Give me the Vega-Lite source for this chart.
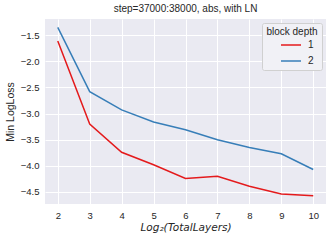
{
  "$schema": "https://vega.github.io/schema/vega-lite/v6.json",
  "autosize": {"type": "none"},
  "width": 281,
  "height": 185,
  "padding": {"left": 45, "top": 19, "right": 6, "bottom": 37},
  "background": "white",
  "title": {"text": "step=37000:38000, abs, with LN", "fontSize": 10, "fontWeight": "normal", "font": "Liberation Sans", "color": "#262626", "offset": 5},
  "data": {"values": [
    {"x": 2, "y": -1.61, "d": "1"},
    {"x": 3, "y": -3.20, "d": "1"},
    {"x": 4, "y": -3.74, "d": "1"},
    {"x": 5, "y": -3.98, "d": "1"},
    {"x": 6, "y": -4.24, "d": "1"},
    {"x": 7, "y": -4.20, "d": "1"},
    {"x": 8, "y": -4.39, "d": "1"},
    {"x": 9, "y": -4.54, "d": "1"},
    {"x": 10, "y": -4.57, "d": "1"},
    {"x": 2, "y": -1.35, "d": "2"},
    {"x": 3, "y": -2.58, "d": "2"},
    {"x": 4, "y": -2.93, "d": "2"},
    {"x": 5, "y": -3.16, "d": "2"},
    {"x": 6, "y": -3.31, "d": "2"},
    {"x": 7, "y": -3.50, "d": "2"},
    {"x": 8, "y": -3.65, "d": "2"},
    {"x": 9, "y": -3.77, "d": "2"},
    {"x": 10, "y": -4.07, "d": "2"}
  ]},
  "mark": {"type": "line", "strokeWidth": 1.5},
  "encoding": {
    "x": {"field": "x", "type": "quantitative",
      "scale": {"domain": [1.6, 10.4], "nice": false, "zero": false},
      "axis": {"values": [2,3,4,5,6,7,8,9,10], "title": "Log₂(TotalLayers)", "titleFont": "DejaVu Sans", "titleFontStyle": "italic", "titleFontWeight": "normal", "titleFontSize": 10.5, "titlePadding": 3}},
    "y": {"field": "y", "type": "quantitative",
      "scale": {"domain": [-4.73, -1.19], "nice": false, "zero": false},
      "axis": {"values": [-4.5,-4,-3.5,-3,-2.5,-2,-1.5], "format": ".1f", "title": "Min LogLoss", "titleFontWeight": "normal", "titleFontSize": 10.5, "titlePadding": 5}},
    "color": {"field": "d", "type": "nominal",
      "scale": {"domain": ["1", "2"], "range": ["#e41a1c", "#377eb8"]},
      "legend": {"title": "block depth", "orient": "none", "legendX": 217, "legendY": 4,
        "symbolType": "stroke", "symbolStrokeWidth": 1.5, "symbolSize": 400,
        "fillColor": "#F1F1F6", "strokeColor": "#D0D0D0", "cornerRadius": 2, "padding": 4,
        "titleFontWeight": "normal", "titleFontSize": 10, "titleColor": "#262626", "titleAnchor": "middle",
        "titleFont": "Liberation Sans", "labelFont": "Liberation Sans",
        "labelFontSize": 10, "labelColor": "#262626", "rowPadding": -7, "titlePadding": -3,
        "symbolOffset": 10, "labelOffset": 6}}
  },
  "config": {
    "font": "Liberation Sans",
    "view": {"fill": "#EAEAF2", "stroke": null},
    "axis": {"domain": false, "ticks": false, "gridColor": "white", "gridWidth": 1, "gridOpacity": 1,
      "labelColor": "#262626", "titleColor": "#262626", "labelFontSize": 9.5, "labelPadding": 6, "labelFont": "Liberation Sans", "titleFont": "Liberation Sans"}
  }
}
